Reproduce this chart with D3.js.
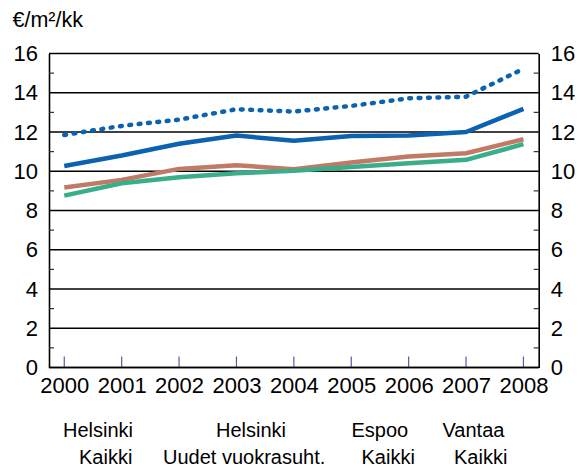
<!DOCTYPE html>
<html>
<head>
<meta charset="utf-8">
<script src="https://cdn.jsdelivr.net/npm/d3@7"></script>
<style>
  html, body { margin: 0; padding: 0; background: #fff; }
  svg { display: block; font-family: "Liberation Sans", Arial, sans-serif; }
</style>
</head>
<body>
<svg id="chart" width="578" height="472"></svg>
<script>
// ---- data ----
const years = [2000, 2001, 2002, 2003, 2004, 2005, 2006, 2007, 2008];
const helsinkiKaikki = [10.27, 10.8, 11.4, 11.82, 11.55, 11.8, 11.82, 12.0, 13.18];
const helsinkiUudet  = [11.85, 12.31, 12.63, 13.16, 13.04, 13.33, 13.72, 13.8, 15.22];
const espooKaikki    = [9.17, 9.56, 10.12, 10.31, 10.1, 10.45, 10.75, 10.92, 11.63];
const vantaaKaikki   = [8.76, 9.39, 9.7, 9.9, 10.02, 10.22, 10.41, 10.58, 11.38];
const yTicks = [0, 2, 4, 6, 8, 10, 12, 14, 16];
const yMinorTicks = [1, 3, 5, 7, 9, 11, 13, 15];
const unitLabel = "€/m²/kk";
const legendRow1 = ["Helsinki", "Helsinki", "Espoo", "Vantaa"];
const legendRow2 = ["Kaikki", "Uudet vuokrasuht.", "Kaikki", "Kaikki"];

// ---- layout ----
const svg = d3.select("#chart");
const L = 49, R = 538.7, T = 53.5, B = 367.5;
const x = d3.scalePoint().domain(years).range([L, R]).padding(0.266);
const y = d3.scaleLinear().domain([0, 16]).range([B, T]);

// major gridlines
svg.append("g").selectAll("line").data(yTicks).join("line")
  .attr("x1", L).attr("x2", R)
  .attr("y1", d => y(d)).attr("y2", d => y(d))
  .attr("stroke", "#000").attr("stroke-width", 1.6);

// axes (left & right)
const leftAxis = d3.axisLeft(y).tickValues(yTicks).tickSize(0).tickPadding(11);
const rightAxis = d3.axisRight(y).tickValues(yTicks).tickSize(0).tickPadding(12);
const gl = svg.append("g").attr("transform", `translate(${L},0)`).call(leftAxis);
const gr = svg.append("g").attr("transform", `translate(${R},0)`).call(rightAxis);
[gl, gr].forEach(g => {
  g.select(".domain").attr("stroke", "#000").attr("stroke-width", 1.6);
  g.selectAll("text").attr("font-size", 22).attr("fill", "#000")
   .attr("font-family", "Liberation Sans, Arial, sans-serif");
});

// minor ticks (inward)
svg.append("g").selectAll("line").data(yMinorTicks).join("line")
  .attr("x1", L).attr("x2", L + 5)
  .attr("y1", d => y(d)).attr("y2", d => y(d))
  .attr("stroke", "#333").attr("stroke-width", 1.2);
svg.append("g").selectAll("line").data(yMinorTicks).join("line")
  .attr("x1", R - 5).attr("x2", R)
  .attr("y1", d => y(d)).attr("y2", d => y(d))
  .attr("stroke", "#333").attr("stroke-width", 1.2);

// x axis
const xAxis = d3.axisBottom(x).tickSize(0).tickPadding(10);
const gx = svg.append("g").attr("transform", `translate(0,${B})`).call(xAxis);
gx.select(".domain").remove();
gx.selectAll("text").attr("font-size", 22).attr("fill", "#000")
  .attr("font-family", "Liberation Sans, Arial, sans-serif");
svg.append("g").selectAll("line").data(years).join("line")
  .attr("x1", d => x(d)).attr("x2", d => x(d))
  .attr("y1", B).attr("y2", B - 11)
  .attr("stroke", "#5a5aa8").attr("stroke-width", 1.2);

// series lines
const line = d3.line().x((d, i) => x(years[i])).y(d => y(d));
const series = [
  { values: espooKaikki, color: "#c17a66", dash: null },
  { values: vantaaKaikki, color: "#3aae8b", dash: null },
  { values: helsinkiKaikki, color: "#0a62b0", dash: null },
  { values: helsinkiUudet, color: "#0a62b0", dash: "1.8,7.6" }
];
series.forEach(s => {
  svg.append("path").datum(s.values)
    .attr("d", line)
    .attr("fill", "none")
    .attr("stroke", s.color)
    .attr("stroke-width", 4.5)
    .attr("stroke-linejoin", "round")
    .attr("stroke-linecap", s.dash ? "round" : "butt")
    .attr("stroke-dasharray", s.dash);
});

// bottom axis line on top
svg.append("line").attr("x1", L).attr("x2", R).attr("y1", B).attr("y2", B)
  .attr("stroke", "#000").attr("stroke-width", 1.6);

// unit label
svg.append("text").attr("x", 12.5).attr("y", 26.5)
  .attr("font-size", 21.5).attr("fill", "#000").text(unitLabel);

// legend labels (text only)
const row1X = [63, 216, 351.5, 442.5];
const row2X = [79, 163, 361.5, 454];
svg.append("g").selectAll("text").data(legendRow1).join("text")
  .attr("x", (d, i) => row1X[i]).attr("y", 437)
  .attr("font-size", 20).attr("fill", "#000").text(d => d);
svg.append("g").selectAll("text").data(legendRow2).join("text")
  .attr("x", (d, i) => row2X[i]).attr("y", 464)
  .attr("font-size", 20).attr("fill", "#000").text(d => d);
</script>
</body>
</html>
